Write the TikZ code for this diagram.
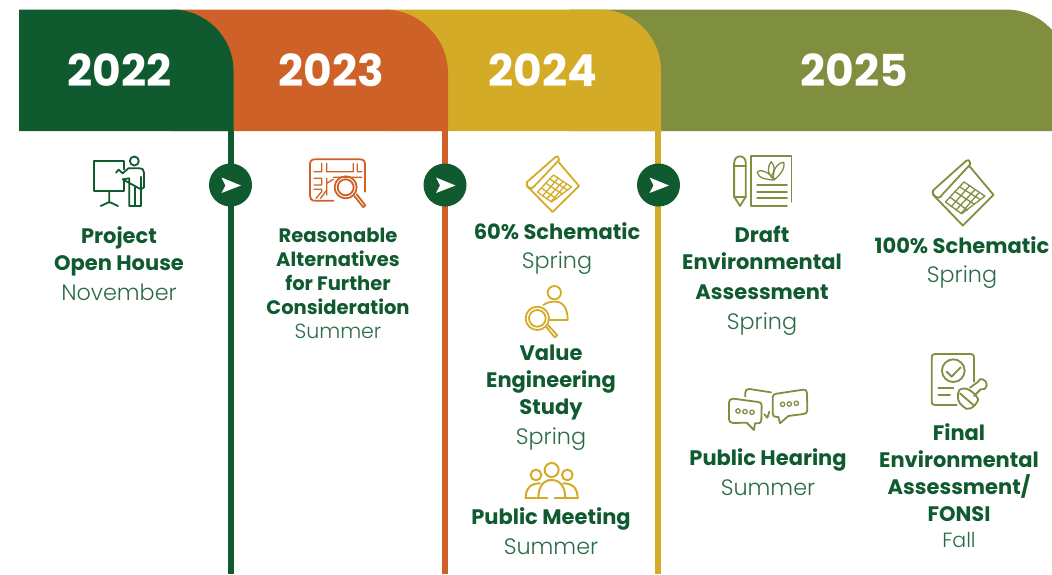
\documentclass[tikz,border=0pt]{standalone}
\usepackage{fontspec}
\setmainfont{Poppins}
\newfontfamily\lightf{Poppins Light}
\newfontfamily\boldf{Poppins Bold}
\definecolor{cgreen}{HTML}{0F5A2F}
\definecolor{corange}{HTML}{CD6128}
\definecolor{cgold}{HTML}{D4AB26}
\definecolor{colive}{HTML}{7F8E3F}
\definecolor{clight}{HTML}{2A6B47}
\tikzset{
  year/.style={text=white,font=\fontsize{44}{44}\selectfont\bfseries,inner sep=0pt,anchor=center},
  ttl/.style={text=cgreen,font=\fontsize{21}{27}\boldf,inner sep=0pt,anchor=center,align=center},
  ttltight/.style={text=cgreen,font=\fontsize{19.5}{24}\boldf,inner sep=0pt,anchor=center,align=center},
  sub/.style={text=clight,font=\fontsize{22.3}{22}\lightf,inner sep=0pt,anchor=center},
  subsmall/.style={text=clight,font=\fontsize{20.5}{21}\lightf,inner sep=0pt,anchor=center},
  ico/.style={line width=1.8pt,line cap=round,line join=round,fill=none},
  thin/.style={line width=1.3pt,line cap=round,line join=round,fill=none},
  badge/.style={circle,fill=cgreen,minimum size=43pt,inner sep=0pt},
  z3/.style={x=0.3333pt,y=-0.3333pt},
}
\newcommand{\scrollico}{%
 \draw[ico] (30,1) -- (1.5,26) .. controls (-1,31) and (7,35) .. (9,30) -- (33.5,4) .. controls (33,0) and (31,0) .. (30,1);
 \draw[ico] (1.5,26) -- (1.5,30) -- (27,56) -- (53.5,30) -- (33,6);
 \draw[thin] (12,36) -- (28,19) -- (46,31) -- (26,46) -- cycle;
 \draw[thin] (16,32) -- (31,43) (20,27) -- (37,38) (24,23) -- (42,34)
   (17,40) -- (33,22) (21,43) -- (37,26) (26,45) -- (41,28);
}
\begin{document}
\begin{tikzpicture}[x=1pt,y=-1pt]
\useasboundingbox (0,0) rectangle (1052,574);
\clip (0,0) rectangle (1052,574);
% bands
\fill[colive] (570,9.5) -- (1006,9.5) arc[start angle=-90,end angle=0,radius=62] -- (1068,131) -- (570,131) -- cycle;
\fill[cgold] (385,9.5) -- (600,9.5) arc[start angle=-90,end angle=0,radius=61] -- (661,131) -- (385,131) -- cycle;
\fill[corange] (172,9.5) -- (384,9.5) arc[start angle=-90,end angle=0,radius=64] -- (448,131) -- (172,131) -- cycle;
\fill[cgreen] (19,9.5) -- (172,9.5) arc[start angle=-90,end angle=0,radius=61.5] -- (233.5,131) -- (19,131) -- cycle;
% stems
\fill[cgreen] (227.5,131) rectangle (233.5,574);
\fill[corange] (442,131) rectangle (448,574);
\fill[cgold] (655,131) rectangle (661,574);
% badges
\foreach \n/\cx in {a/230.5,b/445,c/658.5}{
  \node[badge] (badge\n) at (\cx,185) {};
  \fill[white] ([shift={(10.5,0.5)}]badge\n.center) -- ([shift={(-9,-7.5)}]badge\n.center) -- ([shift={(-5,0.5)}]badge\n.center) -- ([shift={(-9,8)}]badge\n.center) -- cycle;
}
% years
\node[year] (y22) at (119.5,70) {2022};
\node[year] (y23) at (331.5,70) {2023};
\node[year] (y24) at (543,70) {2024};
\node[year] (y25) at (854,70) {2025};
% texts
\node[ttl] (t1) at (119,251) {Project\\Open House};
\node[sub] (s1) at (119,292) {November};
\node[ttltight] (t2) at (338,271) {Reasonable\\Alternatives\\for Further\\Consideration};
\node[subsmall] (s2) at (338,331) {Summer};
\node[ttl] (t3) at (557,231) {60\% Schematic};
\node[sub] (s3) at (557,263) {Spring};
\node[ttl] (t4) at (551,383) {Value\\Engineering\\Study};
\node[sub] (s4) at (551,439) {Spring};
\node[ttl] (t5) at (551,519) {Public Meeting};
\node[sub] (s5) at (551,547) {Summer};
\node[ttl] (t6) at (762,263) {Draft\\Environmental\\[3pt]Assessment};
\node[sub] (s6) at (762,324) {Spring};
\node[ttl] (t7) at (962,245) {100\% Schematic};
\node[sub] (s7) at (962,277) {Spring};
\node[ttl] (t8) at (768,460) {Public Hearing};
\node[sub] (s8) at (768,488) {Summer};
\node[ttl] (t9) at (959,472.5) {Final\\Environmental\\Assessment/\\FONSI};
\node[subsmall] (s9) at (959,540) {Fall};
% presenter
\begin{scope}[shift={(80pt,-150pt)},z3,draw=cgreen]
 \draw[ico] (133,58) -- (133,32) -- (43,32) -- (43,122) -- (133,122) -- (133,88);
 \draw[ico] (88,122) -- (88,158) (62,168) -- (88,156) -- (114,168);
 \draw[ico] (163,33) circle[radius=13.5];
 \draw[ico] (108,68) -- (116,59) -- (128,70) -- (145,55) -- (178,55) .. controls (188,55) and (192,60) .. (192,68) -- (192,112) -- (183,118) -- (183,80) (183,118) -- (183,168) -- (148,168) -- (148,85) -- (128,88) -- cycle;
 \draw[ico] (165,112) -- (165,168);
\end{scope}
% map
\begin{scope}[shift={(300pt,-150pt)},z3,draw=corange]
 \draw[ico] (100,152) -- (45,152) .. controls (35,152) and (30,147) .. (30,138) -- (30,43) .. controls (30,33) and (35,28) .. (45,28) -- (180,28) .. controls (190,28) and (195,33) .. (195,43) -- (195,125);
 \draw[thin] (42,65) -- (65,65) -- (65,40) (80,40) -- (80,65) -- (160,65) -- (160,40) (172,42) -- (172,65) -- (186,65) (100,82) -- (186,82)
   (42,85) -- (65,85) -- (65,105) -- (42,105) (80,85) -- (80,135) (80,100) -- (100,88)
   (42,118) -- (65,118) -- (65,125) -- (48,145) (80,120) -- (62,145);
 \draw[ico] (137,112) circle[radius=33];
 \draw[ico] (137,112) circle[radius=24];
 \draw[ico] (163,138) -- (190,172) -- (196,166) -- (170,133);
\end{scope}
% scroll gold
\begin{scope}[shift={(525.5pt,-156pt)},draw=cgold]
 \scrollico
\end{scope}
% scroll olive
\begin{scope}[shift={(931.5pt,-159.5pt)},x=1.16pt,y=-1.18pt,draw=colive]
 \scrollico
\end{scope}
% engineer
\begin{scope}[shift={(460pt,-270pt)},z3,draw=cgold]
 \draw[ico] (283,68) circle[radius=20];
 \draw[ico] (250,105) .. controls (262,97) and (272,95) .. (285,95) .. controls (308,95) and (323,112) .. (323,150) -- (265,150);
 \draw[ico] (232,145) circle[radius=35];
 \draw[ico] (232,145) circle[radius=25];
 \draw[ico] (258,170) -- (284,202) -- (292,196) -- (264,165);
\end{scope}
% people
\begin{scope}[shift={(460pt,-270pt)},z3,draw=cgold]
 \tikzset{ico/.append style={line width=2pt}}
 \draw[ico] (275,600) circle[radius=21];
 \draw[ico] (228,615) circle[radius=16];
 \draw[ico] (322,615) circle[radius=16];
 \draw[ico] (235,685) .. controls (235,650) and (250,630) .. (275,630) .. controls (300,630) and (316,650) .. (316,685);
 \draw[ico] (197,685) .. controls (197,655) and (212,640) .. (240,640);
 \draw[ico] (353,685) .. controls (353,655) and (338,640) .. (310,640);
 \draw[ico] (197,685) -- (262,685) (284,685) -- (353,685);
\end{scope}
% doc + pencil
\begin{scope}[shift={(440pt,0pt)},x=0.3906pt,y=-0.3333pt,draw=colive]
 \draw[ico] (753,490) .. controls (753,462) and (783,462) .. (783,490) -- (783,590) -- (768,618) -- (753,590) -- cycle;
 \draw[ico] (753,497) -- (783,497) (753,590) -- (783,590);
 \draw[ico] (900,605) -- (900,468) -- (797,468) -- (797,617) -- (888,617);
 \draw[ico] (812,555) -- (888,555) (812,575) -- (888,575) (812,595) -- (888,595);
 \draw[thin] (855,540) .. controls (845,515) and (815,505) .. (812,518) .. controls (815,535) and (840,540) .. (855,540) (855,540) .. controls (865,530) and (885,510) .. (880,487) .. controls (860,490) and (850,515) .. (855,540) (855,538) .. controls (840,525) and (835,505) .. (848,485) .. controls (860,500) and (855,515) .. (850,525);
\end{scope}
% speech
\begin{scope}[shift={(700pt,-340pt)},z3,draw=colive]
 \draw[ico] (100,176) -- (175,186) .. controls (182,187) and (185,190) .. (185,197) -- (184,240) .. controls (184,247) and (180,250) .. (175,250) -- (165,250) -- (162,270) -- (140,248) -- (100,249) .. controls (92,249) and (87,245) .. (87,238) -- (87,187) .. controls (87,180) and (92,176) .. (100,176) -- cycle;
 \draw[ico] (230,161) -- (310,149) .. controls (317,148) and (321,152) .. (321,160) -- (322,210) .. controls (322,218) and (318,222) .. (310,222) -- (265,228) -- (240,250) -- (235,230) -- (230,231) .. controls (222,231) and (218,228) .. (218,220) -- (218,172) .. controls (218,165) and (222,162) .. (230,161) -- cycle;
 \draw[ico] (136,170) -- (136,158) .. controls (136,150) and (140,147) .. (148,147) -- (213,157);
 \draw[ico] (193,223) -- (202,233) -- (208,215);
 \foreach \p in {(114,213),(135,215),(156,217),(248,193),(268,192),(289,190)} \draw[thin] \p circle[radius=6.5];
\end{scope}
% stamp
\begin{scope}[shift={(700pt,-340pt)},z3,draw=colive]
 \draw[ico] (770,195) -- (705,195) .. controls (698,195) and (695,192) .. (695,185) -- (695,52) .. controls (695,45) and (698,42) .. (705,42) -- (812,42) .. controls (819,42) and (822,45) .. (822,52) -- (822,125);
 \draw[ico] (760,92) circle[radius=34];
 \draw[ico] (740,95) -- (755,110) -- (782,82);
 \draw[ico] (715,145) -- (760,145) (715,165) -- (750,165);
 \draw[ico] (778,150) .. controls (800,135) and (825,160) .. (835,178) .. controls (825,205) and (800,215) .. (790,200) .. controls (775,190) and (768,170) .. (778,150) -- cycle;
 \draw[ico] (810,143) -- (835,125) .. controls (835,112) and (860,115) .. (860,135) .. controls (858,148) and (850,150) .. (842,148) -- (822,168);
 \draw[ico] (780,160) -- (820,195);
\end{scope}
\end{tikzpicture}
\end{document}
